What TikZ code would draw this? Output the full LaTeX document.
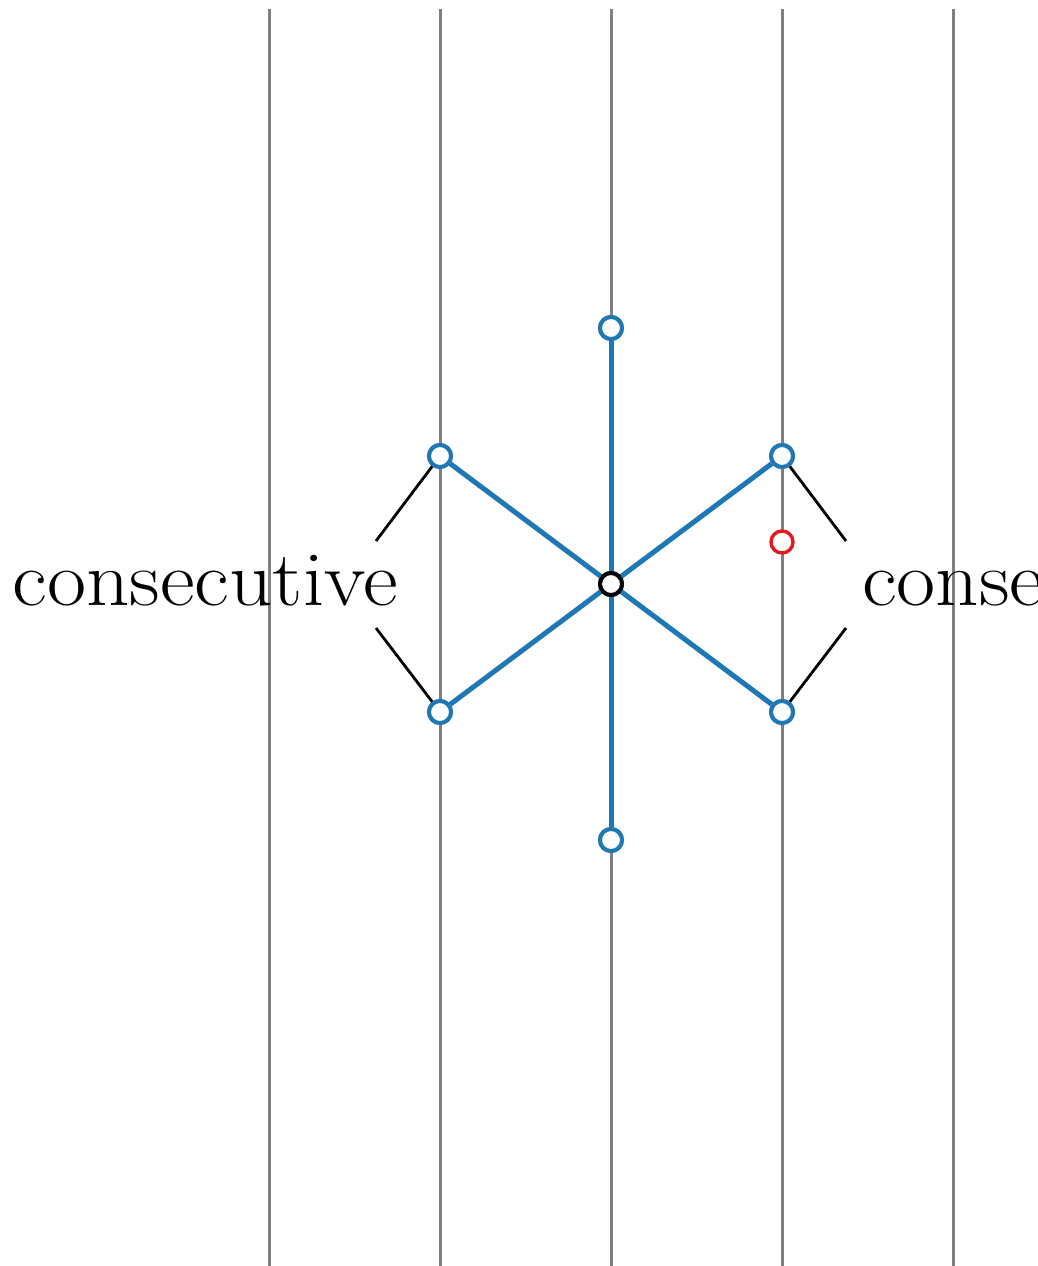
\documentclass[tikz,border=0pt]{standalone}
\definecolor{mblue}{HTML}{1F77B4}
\definecolor{mred}{HTML}{E41A1C}
\definecolor{mgray}{HTML}{808080}
\tikzset{
  vert/.style={circle, draw=mblue, fill=white, line width=4pt, minimum size=22pt, inner sep=0pt},
  redv/.style={circle, draw=mred, fill=white, line width=3.4pt, minimum size=22pt, inner sep=0pt},
  ctr/.style={circle, draw=black, fill=white, line width=4pt, minimum size=22pt, inner sep=0pt},
  grid/.style={draw=mgray, line width=3pt},
  edge/.style={draw=mblue, line width=5pt},
  lead/.style={draw=black, line width=2.8pt},
  lbl/.style={font=\fontsize{78}{80}\selectfont, inner sep=0pt}
}
\newcommand{\wide}[1]{\scalebox{1.09}[1]{#1}}
\begin{document}
\begin{tikzpicture}[x=1pt,y=-1pt]
\useasboundingbox (0,0) rectangle (1038,1266);
\clip (0,0) rectangle (1038,1266);
% grid lines
\foreach \i/\x in {1/269,2/440,3/611,4/782,5/953}{
  \coordinate (gt\i) at (\x,9);
  \coordinate (gb\i) at (\x,1266);
  \draw[grid] (gt\i) -- (gb\i);
}
% nodes
\node[vert] (top) at (611,328) {};
\node[vert] (bot) at (611,840) {};
\node[vert] (ul) at (440,456) {};
\node[vert] (ur) at (782,456) {};
\node[vert] (ll) at (440,712) {};
\node[vert] (lr) at (782,712) {};
\node[ctr] (c) at (611,584) {};
% edges
\draw[edge] (c) -- (top);
\draw[edge] (c) -- (bot);
\draw[edge] (c) -- (ul);
\draw[edge] (c) -- (ur);
\draw[edge] (c) -- (ll);
\draw[edge] (c) -- (lr);
% redraw nodes on top
\node[vert] at (611,328) {};
\node[vert] at (611,840) {};
\node[vert] at (440,456) {};
\node[vert] at (782,456) {};
\node[vert] at (440,712) {};
\node[vert] at (782,712) {};
\node[ctr] at (611,584) {};
\node[redv] (red) at (782,542) {};
% labels
\node[lbl, anchor=base east] (lL) at (398,605) {\wide{consecutive}};
\node[lbl, anchor=base west] (lR) at (862,605) {\wide{consecutive}};
% leader lines
\coordinate (a1) at (376,541);
\coordinate (a2) at (376,628);
\coordinate (b1) at (846,541);
\coordinate (b2) at (846,628);
\draw[lead] (a1) -- (ul);
\draw[lead] (a2) -- (ll);
\draw[lead] (b1) -- (ur);
\draw[lead] (b2) -- (lr);
\end{tikzpicture}
\end{document}
